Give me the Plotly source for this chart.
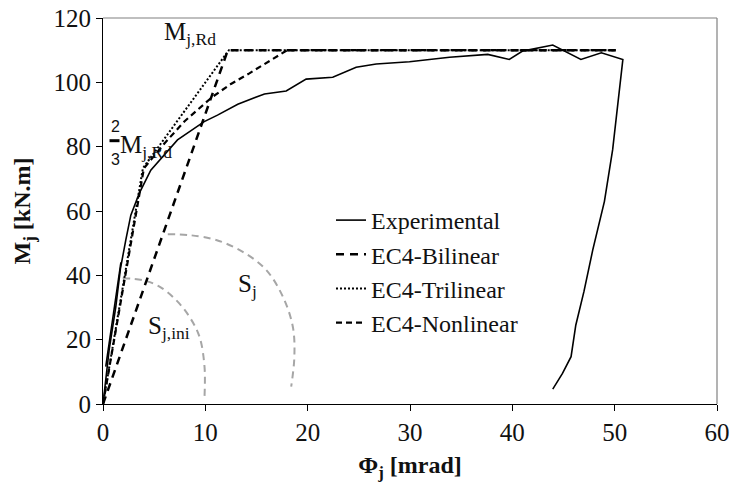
import plotly.graph_objects as go

# ---- data ----
exp_x = [0.27, 1.1, 1.75, None, 0.0, 0.6, 1.25, 1.7, 2.23, 2.72, 3.54, 4.67, 7.28, 9.89, 11.19, 13.17,
         15.78, 17.9, 19.85, 22.45, 24.74, 26.7, 29.95, 33.86, 37.6, 39.7, 41.0, 43.95, 46.7,
         48.7, 50.8, 50.3, 49.8, 49.0, 47.86, 47.0, 46.2, 45.74, 44.9, 43.95]
exp_y = [11.6, 30.2, 44.0, None, 0.0, 16.8, 30.2, 42.0, 51.0, 58.7, 65.5, 72.7, 82.1, 87.8, 89.8, 93.2,
         96.4, 97.3, 101.0, 101.6, 104.7, 105.7, 106.4, 107.8, 108.7, 107.1, 109.7, 111.6, 107.1,
         109.2, 107.1, 94.0, 79.0, 63.0, 47.9, 35.0, 24.5, 14.7, 9.5, 4.6]

bil_x = [0.0, 12.2, 50.1]
bil_y = [0.0, 110.0, 110.0]

tri_x = [0.0, 3.9, 12.3, 50.1]
tri_y = [0.0, 73.3, 110.0, 110.0]

non_x = [0.0, 4.0, 6.0, 8.0, 10.7, 12.5, 14.3, 16.2, 18.0, 50.1]
non_y = [0.0, 73.3, 81.0, 88.0, 95.5, 99.5, 102.8, 106.5, 110.0, 110.0]

arc_ini_x = [1.93, 3.89, 5.52, 7.15, 8.45, 9.43, 9.92, 9.92]
arc_ini_y = [39.1, 38.5, 36.5, 32.3, 27.1, 20.9, 11.6, 2.3]

arc_sj_x = [6.33, 8.45, 11.06, 13.66, 15.94, 17.57, 18.55, 18.7, 18.39]
arc_sj_y = [52.8, 52.5, 51.0, 47.3, 41.7, 33.4, 24.0, 14.7, 5.4]

x_ticks = [0, 10, 20, 30, 40, 50, 60]
y_ticks = [0, 20, 40, 60, 80, 100, 120]

SERIF = "Liberation Serif"
L, R, T, B = 103, 14, 18, 78
W, H = 731, 482
PW, PH = W - L - R, H - T - B


def px(x):
    return (x - L) / PW


def py(y):
    return (H - B - y) / PH


fig = go.Figure()
fig.add_trace(go.Scatter(x=arc_ini_x, y=arc_ini_y, mode="lines", line_shape="spline",
                         line=dict(color="#a6a6a6", width=2, dash="7px,5px"), showlegend=False,
                         hoverinfo="skip"))
fig.add_trace(go.Scatter(x=arc_sj_x, y=arc_sj_y, mode="lines", line_shape="spline",
                         line=dict(color="#a6a6a6", width=2, dash="7px,5px"), showlegend=False,
                         hoverinfo="skip"))
fig.add_trace(go.Scatter(x=exp_x, y=exp_y, mode="lines", name="Experimental",
                         line=dict(color="black", width=1.6), connectgaps=False))
fig.add_trace(go.Scatter(x=bil_x, y=bil_y, mode="lines", name="EC4-Bilinear",
                         line=dict(color="black", width=2.5, dash="8px,6px")))
fig.add_trace(go.Scatter(x=tri_x, y=tri_y, mode="lines", name="EC4-Trilinear",
                         line=dict(color="black", width=2, dash="2px,2px")))
fig.add_trace(go.Scatter(x=non_x, y=non_y, mode="lines", name="EC4-Nonlinear",
                         line=dict(color="black", width=2.2, dash="6px,4px")))

axis_common = dict(showgrid=False, zeroline=False, showline=True, linecolor="black", linewidth=1.2,
                   ticks="outside", ticklen=6, tickcolor="black", tickwidth=1.2,
                   tickfont=dict(family=SERIF, size=25, color="#111"))

fig.update_xaxes(range=[0, 60], tickvals=x_ticks, ticktext=[str(v) for v in x_ticks],
                 title=dict(text="<b>Φ<sub>j</sub> [mrad]</b>", font=dict(family=SERIF, size=24, color="#111"),
                            standoff=11),
                 **axis_common)
fig.update_yaxes(range=[0, 120], tickvals=y_ticks, ticktext=[str(v) for v in y_ticks],
                 title=dict(text="<b>M<sub>j</sub> [kN.m]</b>", font=dict(family=SERIF, size=24, color="#111"),
                            standoff=16),
                 **axis_common)

shapes = [
    dict(type="line", xref="paper", yref="paper", x0=0, x1=1, y0=1, y1=1, line=dict(color="#808080", width=1.2)),
    dict(type="line", xref="paper", yref="paper", x0=1, x1=1, y0=0, y1=1, line=dict(color="#808080", width=1.2)),
    dict(type="line", xref="paper", yref="paper", x0=px(109.5), x1=px(119.5), y0=py(140.7), y1=py(140.7),
         line=dict(color="black", width=3)),
]

anns = [
    dict(text="M<sub>j,Rd</sub>", x=px(162), y=py(16), xanchor="left", yanchor="top",
         font=dict(family=SERIF, size=25, color="#111")),
    dict(text="M<sub>j,Rd</sub>", x=px(118), y=py(129), xanchor="left", yanchor="top",
         font=dict(family=SERIF, size=25, color="#111")),
    dict(text="2", x=px(115), y=py(126), xanchor="center", yanchor="middle",
         font=dict(family="Liberation Sans", size=16, color="#111")),
    dict(text="3", x=px(115), y=py(159), xanchor="center", yanchor="middle",
         font=dict(family="Liberation Sans", size=16, color="#111")),
    dict(text="S<sub>j</sub>", x=px(236), y=py(268), xanchor="left", yanchor="top",
         font=dict(family=SERIF, size=25, color="#111")),
    dict(text="S<sub>j,ini</sub>", x=px(146), y=py(310), xanchor="left", yanchor="top",
         font=dict(family=SERIF, size=25, color="#111")),
]
for a in anns:
    a.update(xref="paper", yref="paper", showarrow=False)

fig.update_layout(
    width=W, height=H,
    margin=dict(l=L, r=R, t=T, b=B, autoexpand=False),
    paper_bgcolor="white", plot_bgcolor="white",
    font=dict(family=SERIF, color="#111"),
    legend=dict(x=px(331), y=py(198), xanchor="left", yanchor="top",
                font=dict(family=SERIF, size=24, color="#111"),
                bgcolor="rgba(0,0,0,0)", tracegroupgap=0, itemwidth=30),
    shapes=shapes, annotations=anns, showlegend=True,
)

fig.write_html("out.html", config={"displayModeBar": False},
               post_script="document.body.style.margin='0';document.body.style.overflow='hidden';")
